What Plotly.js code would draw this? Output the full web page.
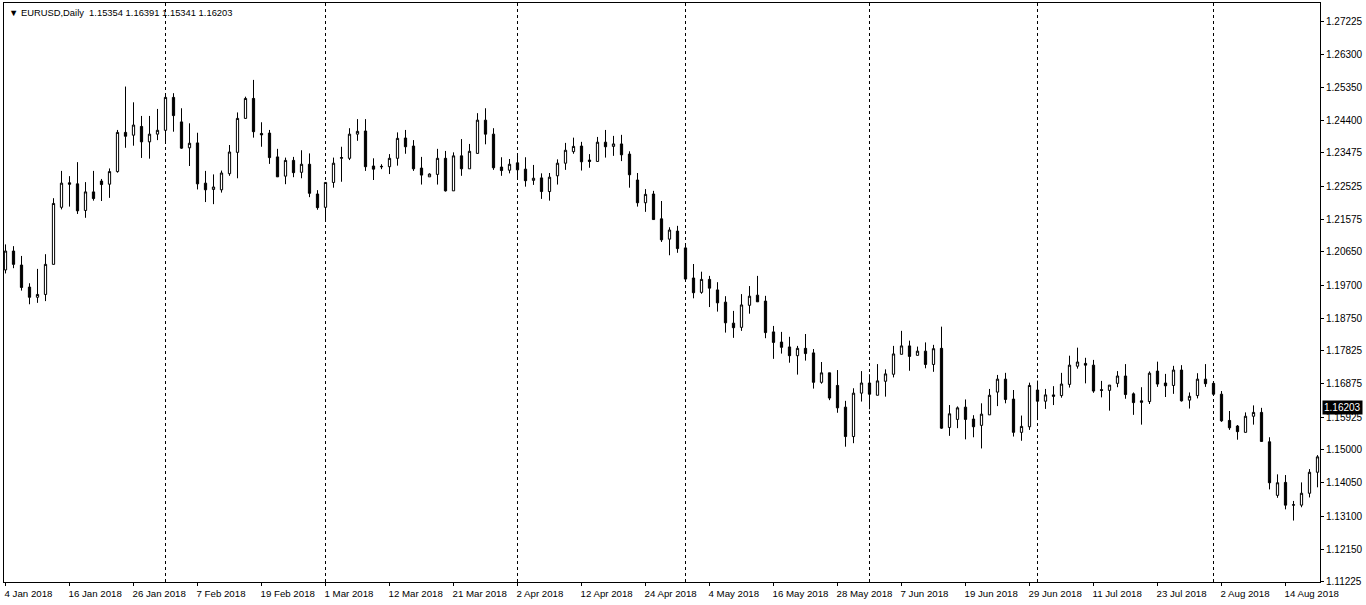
<!DOCTYPE html>
<html><head><meta charset="utf-8">
<script src="https://cdn.plot.ly/plotly-3.0.1.min.js"></script>
<style>html,body{margin:0;padding:0;background:#fff;overflow:hidden}#chart{width:1366px;height:605px}</style>
</head><body><div id="chart"></div>
<script>
// Bar dates (broker feed, weekdays plus two short Sunday bars in March)
const dates = [
'2018-01-04','2018-01-05','2018-01-08','2018-01-09','2018-01-10','2018-01-11','2018-01-12','2018-01-15','2018-01-16','2018-01-17',
'2018-01-18','2018-01-19','2018-01-22','2018-01-23','2018-01-24','2018-01-25','2018-01-26','2018-01-29','2018-01-30','2018-01-31',
'2018-02-01','2018-02-02','2018-02-05','2018-02-06','2018-02-07','2018-02-08','2018-02-09','2018-02-12','2018-02-13','2018-02-14',
'2018-02-15','2018-02-16','2018-02-19','2018-02-20','2018-02-21','2018-02-22','2018-02-23','2018-02-26','2018-02-27','2018-02-28',
'2018-03-01','2018-03-02','2018-03-05','2018-03-06','2018-03-07','2018-03-08','2018-03-09','2018-03-11','2018-03-12','2018-03-13',
'2018-03-14','2018-03-15','2018-03-16','2018-03-18','2018-03-19','2018-03-20','2018-03-21','2018-03-22','2018-03-23','2018-03-26',
'2018-03-27','2018-03-28','2018-03-29','2018-03-30','2018-04-02','2018-04-03','2018-04-04','2018-04-05','2018-04-06','2018-04-09',
'2018-04-10','2018-04-11','2018-04-12','2018-04-13','2018-04-16','2018-04-17','2018-04-18','2018-04-19','2018-04-20','2018-04-23',
'2018-04-24','2018-04-25','2018-04-26','2018-04-27','2018-04-30','2018-05-01','2018-05-02','2018-05-03','2018-05-04','2018-05-07',
'2018-05-08','2018-05-09','2018-05-10','2018-05-11','2018-05-14','2018-05-15','2018-05-16','2018-05-17','2018-05-18','2018-05-21',
'2018-05-22','2018-05-23','2018-05-24','2018-05-25','2018-05-28','2018-05-29','2018-05-30','2018-05-31','2018-06-01','2018-06-04',
'2018-06-05','2018-06-06','2018-06-07','2018-06-08','2018-06-11','2018-06-12','2018-06-13','2018-06-14','2018-06-15','2018-06-18',
'2018-06-19','2018-06-20','2018-06-21','2018-06-22','2018-06-25','2018-06-26','2018-06-27','2018-06-28','2018-06-29','2018-07-02',
'2018-07-03','2018-07-04','2018-07-05','2018-07-06','2018-07-09','2018-07-10','2018-07-11','2018-07-12','2018-07-13','2018-07-16',
'2018-07-17','2018-07-18','2018-07-19','2018-07-20','2018-07-23','2018-07-24','2018-07-25','2018-07-26','2018-07-27','2018-07-30',
'2018-07-31','2018-08-01','2018-08-02','2018-08-03','2018-08-06','2018-08-07','2018-08-08','2018-08-09','2018-08-10','2018-08-13',
'2018-08-14','2018-08-15','2018-08-16','2018-08-17','2018-08-20'];

const open = [
1.2013,1.2067,1.2027,1.1964,1.1935,1.1943,1.2029,1.2192,1.2262,1.2259,
1.2183,1.2236,1.2267,1.2258,1.2294,1.2406,1.2398,1.2423,1.2379,1.2401,
1.2412,1.2506,1.2436,1.2362,1.2376,1.2261,1.2243,1.2242,1.2288,1.2349,
1.2446,1.2503,1.2403,1.2404,1.2336,1.2281,1.2326,1.2292,1.2315,1.2230,
1.2192,1.2263,1.2332,1.2332,1.2401,1.2410,1.2310,1.2309,1.2308,1.2332,
1.2390,1.2367,1.2304,1.2279,1.2286,1.2332,1.2239,1.2339,1.2302,1.2346,
1.2441,1.2401,1.2307,1.2298,1.2319,1.2301,1.2269,1.2276,1.2237,1.2282,
1.2318,1.2351,1.2367,1.2327,1.2323,1.2378,1.2366,1.2373,1.2344,1.2270,
1.2205,1.2230,1.2159,1.2101,1.2124,1.2076,1.1990,1.1949,1.1986,1.1956,
1.1921,1.1861,1.1849,1.1912,1.1941,1.1924,1.1836,1.1807,1.1793,1.1768,
1.1789,1.1776,1.1692,1.1719,1.1683,1.1621,1.1537,1.1661,1.1690,1.1655,
1.1695,1.1715,1.1772,1.1796,1.1769,1.1781,1.1743,1.1789,1.1563,1.1586,
1.1621,1.1587,1.1569,1.1599,1.1664,1.1701,1.1644,1.1549,1.1565,1.1670,
1.1638,1.1656,1.1654,1.1686,1.1738,1.1746,1.1741,1.1671,1.1669,1.1689,
1.1710,1.1659,1.1639,1.1637,1.1724,1.1690,1.1683,1.1727,1.1641,1.1654,
1.1701,1.1689,1.1658,1.1583,1.1567,1.1549,1.1595,1.1606,1.1522,1.1369,
1.1406,1.1341,1.1341,1.1375,1.1435];

const high = [
1.2086,1.2081,1.2053,1.1975,1.2016,1.2058,1.2218,1.2296,1.2281,1.2321,
1.2264,1.2296,1.2273,1.2303,1.2413,1.2537,1.2492,1.2453,1.2453,1.2473,
1.2518,1.2518,1.2475,1.2432,1.2405,1.2296,1.2286,1.2297,1.2370,1.2463,
1.2508,1.2556,1.2435,1.2413,1.2359,1.2334,1.2336,1.2355,1.2346,1.2241,
1.2263,1.2334,1.2365,1.2418,1.2444,1.2444,1.2332,1.2315,1.2344,1.2406,
1.2413,1.2384,1.2336,1.2289,1.2359,1.2353,1.2349,1.2387,1.2373,1.2461,
1.2475,1.2418,1.2335,1.2330,1.2346,1.2335,1.2313,1.2289,1.2290,1.2329,
1.2376,1.2391,1.2379,1.2344,1.2393,1.2413,1.2396,1.2399,1.2352,1.2290,
1.2244,1.2239,1.2210,1.2135,1.2139,1.2088,1.2030,1.2008,1.1996,1.1978,
1.1938,1.1896,1.1944,1.1967,1.1996,1.1939,1.1853,1.1836,1.1822,1.1796,
1.1830,1.1787,1.1750,1.1719,1.1727,1.1639,1.1675,1.1724,1.1715,1.1744,
1.1729,1.1796,1.1839,1.1811,1.1794,1.1806,1.1799,1.1851,1.1627,1.1623,
1.1643,1.1598,1.1632,1.1673,1.1713,1.1719,1.1670,1.1597,1.1691,1.1697,
1.1673,1.1681,1.1719,1.1768,1.1791,1.1762,1.1756,1.1696,1.1684,1.1724,
1.1744,1.1663,1.1678,1.1723,1.1751,1.1716,1.1739,1.1741,1.1663,1.1718,
1.1744,1.1689,1.1667,1.1610,1.1570,1.1606,1.1626,1.1619,1.1535,1.1429,
1.1427,1.1353,1.1406,1.1444,1.1484];

const low = [
1.2003,1.2018,1.1954,1.1915,1.1919,1.1924,1.2029,1.2186,1.2194,1.2173,
1.2162,1.2211,1.2210,1.2219,1.2291,1.2362,1.2368,1.2333,1.2331,1.2384,
1.2375,1.2408,1.2359,1.2310,1.2243,1.2207,1.2201,1.2234,1.2282,1.2275,
1.2446,1.2391,1.2365,1.2316,1.2279,1.2258,1.2278,1.2275,1.2221,1.2185,
1.2151,1.2248,1.2265,1.2327,1.2382,1.2296,1.2270,1.2301,1.2287,1.2311,
1.2345,1.2296,1.2257,1.2279,1.2257,1.2237,1.2239,1.2282,1.2302,1.2346,
1.2372,1.2299,1.2282,1.2289,1.2270,1.2251,1.2256,1.2216,1.2211,1.2257,
1.2299,1.2345,1.2297,1.2305,1.2323,1.2334,1.2339,1.2324,1.2248,1.2194,
1.2179,1.2157,1.2093,1.2055,1.2062,1.1979,1.1932,1.1945,1.1907,1.1894,
1.1834,1.1819,1.1839,1.1888,1.1922,1.1818,1.1759,1.1774,1.1748,1.1714,
1.1754,1.1674,1.1688,1.1641,1.1605,1.1508,1.1518,1.1637,1.1615,1.1655,
1.1651,1.1706,1.1772,1.1725,1.1769,1.1732,1.1722,1.1559,1.1539,1.1561,
1.1529,1.1535,1.1503,1.1599,1.1624,1.1632,1.1537,1.1525,1.1556,1.1584,
1.1616,1.1627,1.1648,1.1677,1.1731,1.1689,1.1662,1.1649,1.1611,1.1678,
1.1645,1.1599,1.1571,1.1630,1.1679,1.1650,1.1659,1.1637,1.1617,1.1646,
1.1679,1.1658,1.1579,1.1556,1.1528,1.1549,1.1571,1.1523,1.1386,1.1362,
1.1329,1.1297,1.1335,1.1363,1.1392];

const close = [
1.2067,1.2029,1.1963,1.1935,1.1943,1.2029,1.2203,1.2261,1.2258,1.2182,
1.2236,1.2217,1.2257,1.2294,1.2406,1.2395,1.2427,1.2379,1.2401,1.2412,
1.2506,1.2454,1.2361,1.2375,1.2259,1.2242,1.2250,1.2290,1.2350,1.2446,
1.2503,1.2408,1.2399,1.2334,1.2279,1.2326,1.2291,1.2315,1.2232,1.2191,
1.2263,1.2318,1.2334,1.2401,1.2409,1.2308,1.2301,1.2308,1.2332,1.2389,
1.2365,1.2302,1.2284,1.2287,1.2332,1.2239,1.2339,1.2302,1.2352,1.2441,
1.2401,1.2305,1.2297,1.2315,1.2299,1.2268,1.2275,1.2237,1.2278,1.2318,
1.2355,1.2366,1.2322,1.2323,1.2378,1.2365,1.2373,1.2342,1.2285,1.2205,
1.2229,1.2157,1.2099,1.2127,1.2074,1.1987,1.1948,1.1986,1.1961,1.1919,
1.1862,1.1848,1.1913,1.1938,1.1922,1.1834,1.1806,1.1792,1.1768,1.1789,
1.1774,1.1692,1.1719,1.1647,1.1619,1.1537,1.1661,1.1690,1.1658,1.1696,
1.1716,1.1773,1.1796,1.1766,1.1781,1.1743,1.1788,1.1561,1.1602,1.1619,
1.1586,1.1565,1.1601,1.1655,1.1701,1.1643,1.1549,1.1566,1.1683,1.1638,
1.1656,1.1652,1.1687,1.1741,1.1750,1.1741,1.1667,1.1669,1.1684,1.1710,
1.1657,1.1634,1.1635,1.1718,1.1687,1.1682,1.1727,1.1639,1.1652,1.1701,
1.1688,1.1658,1.1582,1.1562,1.1551,1.1595,1.1606,1.1523,1.1405,1.1405,
1.1341,1.1342,1.1375,1.1435,1.1479];

const xTickDates = ['2018-01-04','2018-01-16','2018-01-26','2018-02-07','2018-02-19','2018-03-01','2018-03-12',
  '2018-03-21','2018-04-02','2018-04-12','2018-04-24','2018-05-04','2018-05-16','2018-05-28','2018-06-07',
  '2018-06-19','2018-06-29','2018-07-11','2018-07-23','2018-08-02','2018-08-14'];
const xTickText = ['4 Jan 2018','16 Jan 2018','26 Jan 2018','7 Feb 2018','19 Feb 2018','1 Mar 2018','12 Mar 2018',
  '21 Mar 2018','2 Apr 2018','12 Apr 2018','24 Apr 2018','4 May 2018','16 May 2018','28 May 2018','7 Jun 2018',
  '19 Jun 2018','29 Jun 2018','11 Jul 2018','23 Jul 2018','2 Aug 2018','14 Aug 2018'];
const yTickVals = [1.27225,1.26300,1.25350,1.24400,1.23475,1.22525,1.21575,1.20650,1.19700,
  1.18750,1.17825,1.16875,1.15925,1.15000,1.14050,1.13100,1.12150,1.11225];
const yTickText = yTickVals.map(v => v.toFixed(5));

const symbolTitle = 'EURUSD,Daily';
const lastBar = ['1.15354','1.16391','1.15341','1.16203'];
const lastPrice = 1.16203;

// month separators: first bar of each new month
const sepIdx = [];
for (let i = 1; i < dates.length; i++) {
  if (dates[i].slice(5,7) !== dates[i-1].slice(5,7)) sepIdx.push(i);
}

const trace = {
  type: 'candlestick',
  x: dates, open: open, high: high, low: low, close: close,
  increasing: {line: {color: '#000', width: 1}, fillcolor: '#ffffff'},
  decreasing: {line: {color: '#000', width: 1}, fillcolor: '#000000'},
  whiskerwidth: 0,
  hoverinfo: 'none'
};

const font = 'Liberation Sans, Arial, sans-serif';
const layout = {
  width: 1366, height: 605,
  margin: {l: 4, r: 46, t: 3, b: 23, pad: 0},
  paper_bgcolor: '#ffffff', plot_bgcolor: '#ffffff',
  showlegend: false,
  boxgap: 0.6,
  font: {family: font, size: 10, color: '#000'},
  xaxis: {
    type: 'category', range: [-0.1875, 164.3125],
    rangeslider: {visible: false},
    showgrid: false, zeroline: false,
    showline: true, mirror: true, linecolor: '#000', linewidth: 1,
    ticks: 'outside', ticklen: 3, tickcolor: '#000', tickwidth: 1,
    tickmode: 'array', tickvals: xTickDates, ticktext: xTickText,
    ticklabelposition: 'outside right', tickangle: 0,
    ticklabelstandoff: 2, ticklabelshift: -2,
    tickfont: {family: font, size: 9.7, color: '#000'},
    fixedrange: true
  },
  yaxis: {
    side: 'right', range: [1.112143, 1.277571],
    showgrid: false, zeroline: false,
    showline: true, mirror: true, linecolor: '#000', linewidth: 1,
    ticks: 'outside', ticklen: 3, tickcolor: '#000', tickwidth: 1,
    tickmode: 'array', tickvals: yTickVals, ticktext: yTickText,
    tickfont: {family: font, size: 10, color: '#000'},
    fixedrange: true
  },
  shapes: sepIdx.map(i => ({
    type: 'line', xref: 'x', yref: 'paper', x0: i, x1: i, y0: 0, y1: 1,
    line: {color: '#000', width: 1, dash: '3px,3px'}, layer: 'below'
  })),
  annotations: [
    {xref: 'paper', yref: 'paper', x: 0, y: 1, xanchor: 'left', yanchor: 'top',
     xshift: 3, yshift: -2, showarrow: false,
     text: '\u25BC ' + symbolTitle + '  ' + lastBar.join(' '),
     font: {family: font, size: 9.4, color: '#000'}},
    {xref: 'paper', yref: 'y', x: 1, y: lastPrice, xanchor: 'left', yanchor: 'middle',
     xshift: 2, showarrow: false, text: lastPrice.toFixed(5),
     bgcolor: '#000', borderpad: 1,
     font: {family: font, size: 10, color: '#fff'}}
  ]
};

Plotly.newPlot('chart', [trace], layout, {staticPlot: true, displayModeBar: false});
</script>
</body></html>
